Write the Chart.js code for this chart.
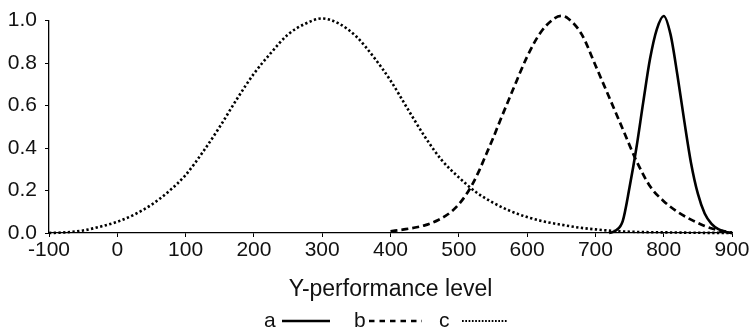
<!DOCTYPE html>
<html>
<head>
<meta charset="utf-8">
<script src="https://cdn.jsdelivr.net/npm/chart.js@4/dist/chart.umd.min.js"></script>
<style>
  html, body { margin: 0; padding: 0; background: #ffffff; }
  #wrap { width: 753px; height: 333px; }
</style>
</head>
<body>
<div id="wrap"><canvas id="chart" width="753" height="333"></canvas></div>
<script>
// Series a (solid): narrow curve around 800
const aX = [720, 730, 740, 750, 760, 770, 780, 790, 800, 810, 820, 830, 840, 850, 860, 870, 880, 890, 900];
const aY = [0.0, 0.012, 0.056, 0.215, 0.40, 0.615, 0.82, 0.96, 1.022, 0.935, 0.745, 0.53, 0.33, 0.185, 0.092, 0.043, 0.018, 0.006, 0.0];

// Series b (dashed): curve around 650
const bX = [400, 420, 440, 450, 460, 470, 480, 490, 500, 510, 520, 530, 540, 550, 560, 580, 600, 620, 640, 650, 660, 680, 700, 720, 740, 760, 780, 800, 820, 840, 860, 880, 900];
const bY = [0.008, 0.017, 0.028, 0.036, 0.047, 0.061, 0.079, 0.103, 0.135, 0.177, 0.23, 0.295, 0.37, 0.445, 0.525, 0.68, 0.83, 0.945, 1.01, 1.022, 1.01, 0.935, 0.79, 0.64, 0.49, 0.34, 0.22, 0.15, 0.10, 0.063, 0.033, 0.013, 0.002];

// Series c (dotted): wide curve around 300
const cX = [-100, -75, -50, -25, 0, 25, 50, 75, 100, 125, 150, 175, 200, 225, 250, 275, 300, 325, 350, 375, 400, 425, 450, 475, 500, 525, 550, 575, 600, 625, 650, 675, 700, 725, 750, 775, 800, 825, 850, 875, 900];
const cY = [0.0, 0.003, 0.012, 0.03, 0.053, 0.087, 0.133, 0.195, 0.273, 0.38, 0.50, 0.63, 0.75, 0.848, 0.935, 0.985, 1.01, 0.985, 0.925, 0.83, 0.718, 0.585, 0.455, 0.343, 0.262, 0.193, 0.143, 0.104, 0.075, 0.054, 0.039, 0.026, 0.017, 0.010, 0.006, 0.004, 0.003, 0.002, 0.001, 0.0005, 0.0];

const seriesLabels = ['a', 'b', 'c'];
const xTitle = 'Y-performance level';
const xTickRange = [-100, 900, 100];
const yTickRange = [0, 1.0, 0.2];

const FONT = "'Liberation Sans', Arial, Helvetica, sans-serif";
const INK = '#000000';

function pts(xs, ys) { return xs.map((x, i) => ({ x: x, y: ys[i] })); }

const dashStyles = [[], [7, 4], [2.3, 2.4]];
const widths = [2.6, 2.7, 2.6];

const datasets = [pts(aX, aY), pts(bX, bY), pts(cX, cY)].map((d, i) => ({
  label: seriesLabels[i],
  data: d,
  borderColor: INK,
  borderWidth: widths[i],
  borderDash: dashStyles[i],
  borderCapStyle: 'butt',
  pointRadius: 0,
  fill: false,
  cubicInterpolationMode: 'monotone',
  clip: false
}));

// Legend drawn below the axis title: label text followed by a line sample
const legendPlugin = {
  id: 'sampleLegend',
  afterDraw(chart) {
    const ctx = chart.ctx;
    const y = 321;
    const start = 264;
    const items = [
      { text: seriesLabels[0], tx: 0, l0: 18, l1: 66, dash: [], w: 2.4 },
      { text: seriesLabels[1], tx: 90, l0: 105, l1: 158, dash: [5.5, 5], w: 2.4 },
      { text: seriesLabels[2], tx: 175, l0: 198, l1: 244, dash: [1.7, 1.6], w: 1.8 }
    ];
    ctx.save();
    ctx.fillStyle = '#111111';
    ctx.font = '21px ' + FONT;
    ctx.textBaseline = 'middle';
    ctx.textAlign = 'left';
    items.forEach(it => {
      ctx.fillText(it.text, start + it.tx, y);
      ctx.beginPath();
      ctx.setLineDash(it.dash);
      ctx.lineWidth = it.w;
      ctx.strokeStyle = INK;
      ctx.moveTo(start + it.l0, y);
      ctx.lineTo(start + it.l1, y);
      ctx.stroke();
    });
    ctx.restore();
  }
};

new Chart(document.getElementById('chart'), {
  type: 'line',
  data: { datasets: datasets },
  options: {
    responsive: false,
    animation: false,
    devicePixelRatio: 1,
    layout: { padding: { top: 15, right: 21, bottom: 30, left: 0 } },
    plugins: { legend: { display: false }, tooltip: { enabled: false } },
    scales: {
      x: {
        type: 'linear',
        min: xTickRange[0],
        max: xTickRange[1],
        afterFit(scale) { scale.height = 70; },
        ticks: {
          stepSize: xTickRange[2],
          color: '#111111',
          font: { family: FONT, size: 21 },
          padding: 1,
          maxRotation: 0,
          autoSkip: false
        },
        grid: { display: true, drawOnChartArea: false, drawTicks: true, tickLength: 4, color: INK, lineWidth: 1 },
        border: { display: true, color: INK, width: 1.3 },
        title: {
          display: true,
          text: xTitle,
          color: '#111111',
          font: { family: FONT, size: 23 },
          padding: { top: 0, bottom: 0 }
        }
      },
      y: {
        type: 'linear',
        min: yTickRange[0],
        max: yTickRange[1],
        afterFit(scale) { scale.width = 49; },
        ticks: {
          stepSize: yTickRange[2],
          color: '#111111',
          font: { family: FONT, size: 21 },
          padding: 8,
          callback: v => Number(v).toFixed(1)
        },
        grid: { display: true, drawOnChartArea: false, drawTicks: true, tickLength: 4, color: INK, lineWidth: 1 },
        border: { display: true, color: INK, width: 1.3 }
      }
    }
  },
  plugins: [legendPlugin]
});
</script>
</body>
</html>
